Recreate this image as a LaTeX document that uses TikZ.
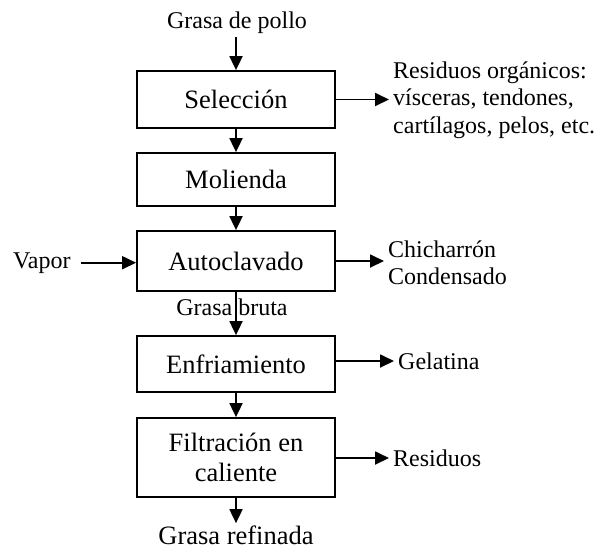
\documentclass[tikz,border=0pt]{standalone}
\usepackage{fontspec}
\setmainfont{Liberation Serif}
\usepackage{tikz}
\usetikzlibrary{arrows.meta}

\tikzset{
    etapa/.style   = {draw, line width=1.8pt, minimum width=198pt, align=center, inner sep=2pt,
                      font=\fontsize{26.5}{30}\selectfont},
    rotulo/.style  = {inner sep=4pt, align=left, font=\fontsize{24}{27.5}\selectfont},
    flujo/.style   = {line width=1.8pt, -{Triangle[length=14pt,width=13pt]}}
}

\begin{document}
\begin{tikzpicture}[x=1pt, y=-1pt]
            \useasboundingbox                                  (0, 0) rectangle (601, 550);
            \node[etapa, minimum height=57pt] (sel)  at (236,  99.5) {Selección};
            \node[etapa, minimum height=53pt] (mol)  at (236, 179.5) {Molienda};
            \node[etapa, minimum height=60pt] (aut)  at (236, 261.0) {Autoclavado};
            \node[etapa, minimum height=56pt] (enf)  at (236, 364.0) {Enfriamiento};
            \node[etapa, minimum height=79pt] (fil)  at (236, 457.5) {Filtración en\\caliente};

            \node[rotulo, anchor=base]               (gp)   at (237,  28) {Grasa de pollo};
            \node[rotulo, anchor=base, inner sep=2pt, font=\fontsize{26.5}{30}\selectfont]
                                                     (gr)   at (236, 544) {Grasa refinada};
            \node[rotulo, anchor=base]               (gb)   at (232, 315) {Grasa bruta};
            \node[rotulo, anchor=base west]          (vap)  at (  9, 268) {Vapor};
            \node[rotulo, anchor=west]               (res)  at (389, 100) {Residuos orgánicos:\\vísceras, tendones,\\cartílagos, pelos, etc.};
            \node[rotulo, anchor=west]               (chi)  at (384, 263) {Chicharrón\\Condensado};
            \node[rotulo, anchor=west]               (gel)  at (394, 361) {Gelatina};
            \node[rotulo, anchor=west]               (rsd)  at (389, 458) {Residuos};

            \draw[flujo] (sel.north |- gp.south) -- (sel.north);
            \draw[flujo] (sel) -- (mol);
            \draw[flujo] (mol) -- (aut);
            \draw[flujo] (aut) -- (enf);
            \draw[flujo] (enf) -- (fil);
            \draw[flujo] (fil.south) -- (fil.south |- gr.north);
            \draw[flujo, shorten <=6pt] (vap.east) -- (aut.west |- vap.east);
            \draw[flujo] (sel.east) -- (sel.east -| res.west);
            \draw[flujo] (aut.east) -- (aut.east -| chi.west);
            \draw[flujo] (enf.east |- gel.west) -- (gel.west);
            \draw[flujo] (fil.east |- rsd.west) -- (rsd.west);
\end{tikzpicture}
\end{document}
